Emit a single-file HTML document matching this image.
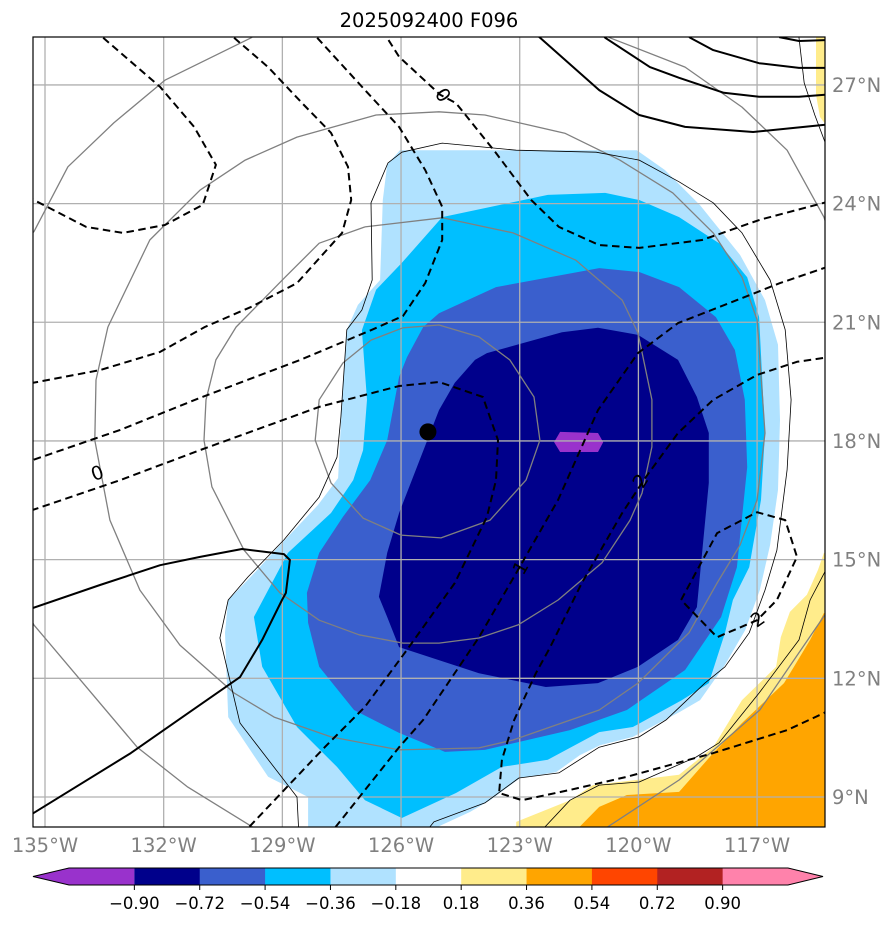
<!DOCTYPE html>
<html><head><meta charset="utf-8"><style>
body{margin:0;background:#fff;font-family:"Liberation Sans","DejaVu Sans",sans-serif}
svg text{font-family:"DejaVu Sans","Liberation Sans",sans-serif}
</style></head><body>
<svg id="chart" width="894" height="924" viewBox="0 0 894 924" xmlns="http://www.w3.org/2000/svg">
<defs><clipPath id="plotclip"><rect x="33" y="37" width="792" height="790"/></clipPath></defs>
<rect x="0" y="0" width="894" height="924" fill="#fff"/>
<text x="429" y="27" text-anchor="middle" font-size="19.5" fill="#000">2025092400 F096</text>
<g id="plot" clip-path="url(#plotclip)"></g>
<rect x="33" y="37" width="792" height="790" fill="none" stroke="#000" stroke-width="1.2"/>
<g id="axes"></g>
<g id="cbar"></g>
</svg>
<script>
// ---- axis data ----
const lonTicks = [-135, -132, -129, -126, -123, -120, -117];
const latTicks = [9, 12, 15, 18, 21, 24, 27];
const lonLabels = ["135°W","132°W","129°W","126°W","123°W","120°W","117°W"];
const latLabels = ["9°N","12°N","15°N","18°N","21°N","24°N","27°N"];
// ---- colorbar data ----
const levels = [-0.90,-0.72,-0.54,-0.36,-0.18,0.18,0.36,0.54,0.72,0.90];
const levelLabels = ["\u22120.90","\u22120.72","\u22120.54","\u22120.36","\u22120.18","0.18","0.36","0.54","0.72","0.90"];
const cbarColors = ["#9932cc","#00008b","#3a5fcd","#00bfff","#b0e2ff","#ffffff","#ffec8b","#ffa500","#ff4500","#b22222","#ff82ab"];
// ---- filled contours [lon,lat] ----
const fillLight = [[-126.35,24.98],[-126.03,25.35],[-120.04,25.35],[-119.33,24.85],[-118.44,23.96],[-117.43,22.70],[-116.80,21.56],[-116.47,20.43],[-116.42,18.53],[-116.47,16.76],[-116.67,15.37],[-116.93,14.23],[-117.30,13.22],[-117.81,12.34],[-118.44,11.45],[-118.95,11.15],[-120.14,10.52],[-120.97,10.31],[-121.48,10.06],[-122.08,9.63],[-122.99,9.48],[-123.75,8.92],[-124.26,8.62],[-125.02,8.27],[-125.3,8.0],[-128.35,8.0],[-128.35,9.0],[-129.36,9.51],[-130.37,11.02],[-130.45,13.15],[-130.37,13.98],[-129.82,14.54],[-129.06,15.37],[-128.10,16.38],[-127.59,17.06],[-127.49,19.04],[-127.37,20.81],[-127.09,21.44],[-126.53,22.07],[-126.46,24.09]];
const fillCyan = [[-125.98,22.50],[-124.96,23.66],[-122.29,24.22],[-120.84,24.27],[-119.98,24.09],[-118.97,23.66],[-117.96,23.00],[-117.25,22.14],[-116.95,21.13],[-116.80,18.20],[-116.90,16.51],[-117.20,14.81],[-117.61,13.98],[-117.81,13.15],[-118.22,11.88],[-118.90,11.45],[-120.14,10.77],[-120.99,10.64],[-122.29,9.94],[-123.45,9.76],[-124.61,9.10],[-125.98,8.47],[-126.91,8.92],[-127.62,9.76],[-128.63,10.77],[-129.51,12.29],[-129.72,13.55],[-128.86,15.17],[-127.77,16.18],[-127.21,17.01],[-126.96,17.77],[-126.86,19.04],[-126.99,20.80],[-126.63,21.82]];
const fillRoyal = [[-125.04,21.23],[-123.60,21.89],[-120.99,22.37],[-119.98,22.27],[-118.97,21.89],[-118.04,21.13],[-117.56,20.30],[-117.31,19.04],[-117.25,17.34],[-117.51,14.81],[-117.91,13.55],[-118.82,12.21],[-120.29,11.20],[-121.73,10.69],[-123.88,10.19],[-124.89,10.14],[-126.05,10.62],[-127.19,11.20],[-128.07,12.29],[-128.35,13.40],[-128.38,14.16],[-128.07,15.17],[-127.47,16.08],[-126.78,17.01],[-126.35,18.02],[-126.05,19.62],[-125.85,20.12],[-125.44,20.88]];
const fillNavy = [[-124.13,20.05],[-123.83,20.22],[-121.93,20.75],[-121.02,20.86],[-120.01,20.68],[-119.00,20.05],[-118.52,19.11],[-118.22,18.20],[-118.22,16.94],[-118.52,13.80],[-119.00,12.97],[-120.01,12.29],[-121.02,11.88],[-122.34,11.78],[-124.03,12.13],[-126.05,12.79],[-126.35,13.55],[-126.56,14.06],[-126.35,15.17],[-126.05,16.18],[-125.04,18.78],[-124.64,19.47]];
const fillPurple = [[-122.13,17.97],[-121.98,18.23],[-121.02,18.20],[-120.89,17.97],[-121.02,17.72],[-121.98,17.72]];
const fillYellow = [[-115.31,15.17],[-115.46,14.74],[-115.74,14.11],[-116.17,13.68],[-116.40,13.04],[-116.52,12.29],[-117.38,11.45],[-118.11,10.26],[-118.97,9.56],[-121.15,9.30],[-121.73,8.92],[-123.09,8.37],[-123.09,8.0],[-115.0,8.0],[-115.0,15.17]];
const fillYellowTop = [[-115.51,28.3],[-115.0,28.3],[-115.0,25.99],[-115.26,25.99],[-115.41,26.19],[-115.51,26.75]];
const fillOrange = [[-115.31,13.65],[-115.66,12.97],[-116.04,12.34],[-116.32,11.88],[-117.38,10.87],[-118.11,10.11],[-118.97,9.13],[-120.29,9.05],[-120.99,8.75],[-121.73,8.0],[-115.0,8.0],[-115.0,13.65]];
// ---- thin black contour ----
const thinMain = [[-128.58,8.0],[-128.63,9.0],[-130.07,10.87],[-130.58,13.02],[-130.37,13.98],[-129.87,14.56],[-128.96,15.50],[-128.07,16.58],[-127.62,17.59],[-127.52,18.61],[-127.37,20.81],[-126.99,21.31],[-126.73,22.07],[-126.76,24.02],[-126.33,25.03],[-125.98,25.30],[-124.96,25.53],[-123.09,25.35],[-121.07,25.30],[-119.98,25.10],[-118.97,24.55],[-118.11,24.02],[-117.38,23.26],[-116.67,22.07],[-116.29,20.81],[-116.14,19.04],[-116.24,17.27],[-116.50,15.24],[-116.80,14.23],[-117.20,13.15],[-117.81,12.29],[-118.32,11.88],[-119.30,10.95],[-119.98,10.52],[-120.99,10.26],[-122.01,9.61],[-123.02,9.48],[-123.88,8.85],[-125.17,8.37],[-125.47,8.0]];
const thinSE = [[-115.0,15.2],[-115.26,14.74],[-115.66,13.98],[-115.94,12.97],[-116.95,11.63],[-117.96,10.37],[-118.54,10.01],[-119.98,9.38],[-120.99,9.30],[-121.73,8.92],[-122.59,8.0]];
const thinNE = [[-115.94,28.3],[-115.94,28.19],[-115.81,27.05],[-115.54,26.24],[-115.0,24.8]];
// ---- gray contours ----
const gray1 = [[-125.95,20.86],[-125.04,20.93],[-124.03,20.63],[-123.25,20.05],[-122.64,19.11],[-122.49,18.02],[-122.84,17.01],[-123.75,16.00],[-124.99,15.55],[-126.00,15.62],[-126.96,16.05],[-127.77,16.94],[-128.17,18.02],[-128.07,19.04],[-127.47,19.97],[-126.76,20.55],[-125.95,20.86]];
const gray2 = [[-126.91,23.41],[-124.96,23.64],[-123.17,23.26],[-121.58,22.57],[-120.41,21.56],[-120.01,20.73],[-119.66,19.04],[-119.66,17.85],[-119.91,16.68],[-120.21,16.00],[-120.92,14.92],[-122.03,13.98],[-123.04,13.35],[-124.03,13.02],[-125.04,12.89],[-125.95,12.89],[-127.06,13.10],[-128.07,13.47],[-129.06,14.16],[-129.97,15.24],[-130.78,16.84],[-130.98,18.02],[-130.93,19.04],[-130.68,20.05],[-130.17,20.88],[-128.93,22.14],[-128.07,23.00],[-126.91,23.41]];
const gray3 = [[-133.41,20.88],[-132.35,23.08],[-131.08,24.34],[-129.94,25.10],[-128.63,25.68],[-126.63,26.24],[-125.04,26.32],[-123.88,26.24],[-121.86,25.78],[-120.47,25.10],[-119.13,24.27],[-118.11,23.26],[-117.38,22.14],[-117.00,21.06],[-116.80,18.20],[-117.00,16.51],[-117.43,15.37],[-118.01,14.41],[-118.72,13.15],[-120.01,11.88],[-120.99,11.20],[-123.17,10.44],[-124.03,10.24],[-126.05,10.19],[-127.77,10.52],[-129.21,11.02],[-130.22,11.63],[-131.59,12.84],[-132.60,14.23],[-133.36,16.00],[-133.74,18.02],[-133.71,19.54],[-133.41,20.88]];
const gray4a = [[-135.63,22.95],[-135.28,23.29],[-134.42,24.93],[-133.26,26.04],[-131.97,27.12],[-129.79,28.19],[-129.5,28.4]];
const gray4b = [[-121.0,28.4],[-120.72,28.19],[-118.82,27.45],[-117.38,26.44],[-116.24,25.35],[-115.31,23.66],[-115.03,22.83]];
const gray4c = [[-135.63,13.98],[-135.28,13.35],[-132.67,10.26],[-131.39,9.25],[-129.36,8.0]];
const gray4d = [[-115.03,13.98],[-115.38,13.47],[-116.93,11.20],[-118.97,9.43],[-121.15,8.0]];
// ---- dashed contours ----
const dash1 = [[-133.53,28.19],[-132.09,26.95],[-131.23,25.94],[-130.68,24.98],[-131.01,23.97],[-131.97,23.46],[-133.03,23.26],[-133.96,23.41],[-135.28,24.09],[-135.63,24.29]];
const dash2 = [[-130.22,28.19],[-129.36,27.45],[-128.50,26.54],[-127.77,25.79],[-127.34,24.93],[-127.26,24.09],[-127.49,23.26],[-128.63,21.99],[-129.79,21.39],[-130.96,20.88],[-132.09,20.25],[-133.61,19.79],[-135.30,19.47],[-135.63,19.42]];
const dash3 = [[-128.12,28.19],[-126.91,26.87],[-126.05,25.94],[-125.39,24.85],[-124.96,23.92],[-124.96,23.08],[-125.39,21.99],[-125.95,21.16],[-126.76,20.80],[-128.55,20.05],[-131.08,19.09],[-133.10,18.28],[-135.30,17.52],[-135.63,17.39]];
const dash4 = [[-135.63,16.13],[-135.30,16.26],[-133.10,17.01],[-131.08,17.77],[-128.07,18.86],[-126.05,19.39],[-125.04,19.49],[-123.93,19.11],[-123.55,18.02],[-123.60,17.01],[-123.83,16.08],[-124.64,14.41],[-125.85,12.72],[-126.91,11.28],[-127.92,10.27],[-130.07,8.0]];
const dash5 = [[-127.85,8.0],[-126.05,10.26],[-125.44,10.95],[-124.03,13.04],[-122.94,14.92],[-122.03,16.51],[-121.02,18.78],[-120.01,20.22],[-119.00,20.98],[-117.51,21.56],[-116.42,21.99],[-115.31,22.37],[-115.03,22.47]];
const dash6 = [[-115.03,20.12],[-115.31,20.10],[-115.99,20.00],[-117.00,19.67],[-118.11,19.04],[-119.00,18.20],[-119.81,17.09],[-120.41,16.18],[-121.43,14.41],[-122.23,12.79],[-122.59,12.13],[-123.14,10.95],[-123.45,9.94],[-123.52,9.10],[-122.94,8.92],[-121.73,9.18],[-120.29,9.51],[-118.11,10.11],[-116.24,10.69],[-115.31,11.12],[-115.03,11.33]];
const dash7 = [[-126.48,28.39],[-126.05,27.71],[-125.01,26.75],[-124.61,26.54],[-123.60,25.28],[-122.71,24.09],[-122.01,23.41],[-120.99,22.95],[-119.98,22.88],[-118.39,23.08],[-116.93,23.59],[-115.31,24.02],[-115.03,24.12]];
const dash8 = [[-118.92,13.98],[-118.01,15.67],[-117.00,16.20],[-116.29,16.00],[-115.99,15.07],[-116.50,13.98],[-117.00,13.47],[-118.01,13.04],[-118.92,13.98]];
// ---- solid black contours ----
const solid1 = [[-135.63,13.68],[-135.30,13.78],[-133.61,14.36],[-132.09,14.86],[-131.08,15.07],[-130.02,15.27],[-128.96,15.14],[-128.81,14.99],[-128.91,14.16],[-129.01,13.98],[-129.51,12.97],[-130.07,12.03],[-131.38,11.12],[-132.83,10.11],[-135.28,8.60],[-135.63,8.37]];
const solid2 = [[-122.71,28.39],[-120.99,26.87],[-119.98,26.24],[-118.82,25.94],[-117.10,25.81],[-115.31,25.99],[-115.03,26.06]];
const solid3 = [[-121.0,28.4],[-120.84,28.19],[-119.71,27.45],[-118.97,27.18],[-117.84,26.80],[-116.95,26.70],[-115.94,26.70],[-115.03,26.77]];
const solid4 = [[-118.9,28.4],[-118.69,28.19],[-118.11,27.88],[-116.95,27.55],[-115.94,27.43],[-115.03,27.43]];
const solid5 = [[-116.44,28.21],[-115.94,28.11],[-115.03,28.14]];
// ---- storm center ----
const centerLon = [-125.32];
const centerLat = [18.23];
// ---- contour labels ----
const labelText = ["0","0","1","2","2"];
const labelLon = [-124.93,-133.68,-122.99,-119.96,-116.99];
const labelLat = [26.75,17.2,14.8,17.0,13.5];
const labelRot = [55,-20,-60,-58,-35];

const NS = "http://www.w3.org/2000/svg";
function X(lon){ return 45 + (lon + 135) * 39.56; }
function Y(lat){ return 797 - (lat - 9) * 39.56; }
function pts(arr){ return arr.map(p => X(p[0]).toFixed(1) + "," + Y(p[1]).toFixed(1)).join(" "); }
function mk(tag, attrs, parent){ const e = document.createElementNS(NS, tag); for (const k in attrs) e.setAttribute(k, attrs[k]); parent.appendChild(e); return e; }
const plot = document.getElementById("plot");
const axes = document.getElementById("axes");
const cbar = document.getElementById("cbar");

function fill(arr, color, name){
  const e = mk("polygon", {points: pts(arr), fill: color, stroke: "none"}, plot);
  
  
}
fill(fillLight, "#b0e2ff", "fill-minus-0-18");
fill(fillCyan, "#00bfff", "fill-minus-0-36");
fill(fillRoyal, "#3a5fcd", "fill-minus-0-54");
fill(fillNavy, "#00008b", "fill-minus-0-72");
fill(fillPurple, "#9932cc", "fill-minus-0-90");
fill(fillYellow, "#ffec8b", "fill-plus-0-18");
fill(fillYellowTop, "#ffec8b", "fill-plus-0-18-north");
fill(fillOrange, "#ffa500", "fill-plus-0-36");

// gridlines
lonTicks.forEach((lon) => {
  const g = mk("line", {x1: X(lon), x2: X(lon), y1: 37, y2: 827, stroke: "#b0b0b0", "stroke-width": 1.3}, plot);
  
  
});
latTicks.forEach((lat) => {
  const g = mk("line", {x1: 33, x2: 825, y1: Y(lat), y2: Y(lat), stroke: "#b0b0b0", "stroke-width": 1.3}, plot);
  
  
});

function line(arr, stroke, w, dash, name){
  const a = {points: pts(arr), fill: "none", stroke: stroke, "stroke-width": w, "stroke-linejoin": "round"};
  if (dash) a["stroke-dasharray"] = dash;
  const e = mk("polyline", a, plot);
  
  
}
[gray1, gray2, gray3, gray4a, gray4b, gray4c, gray4d].forEach(g => line(g, "#808080", 1.3, null, "gray-contour"));
line(thinMain, "#000", 0.8, null, "thin-contour");
line(thinSE, "#000", 0.8, null, "thin-contour");
line(thinNE, "#000", 0.8, null, "thin-contour");
[dash1, dash2, dash3, dash4, dash5, dash6, dash7, dash8].forEach(d => line(d, "#000", 2, "7.5,4.5", "dashed-contour"));
[solid1, solid2, solid3, solid4, solid5].forEach(s => line(s, "#000", 2, null, "solid-contour"));

centerLon.forEach((lon, i) => {
  const c = mk("circle", {cx: X(lon), cy: Y(centerLat[i]), r: 8.5, fill: "#000"}, plot);
  
  
});
labelText.forEach((t, i) => {
  const x = X(labelLon[i]), y = Y(labelLat[i]);
  const e = mk("text", {x: x, y: y + 7, "text-anchor": "middle", "font-size": 19, fill: "#000", transform: "rotate(" + labelRot[i] + " " + x + " " + y + ")"}, plot);
  e.textContent = t;
  
  
});

// axis tick labels
lonTicks.forEach((lon, i) => {
  const t = mk("text", {x: X(lon), y: 852, "text-anchor": "middle", "font-size": 19.5, fill: "#808080"}, axes);
  t.textContent = lonLabels[i];
  
  
});
latTicks.forEach((lat, i) => {
  const t = mk("text", {x: 832, y: Y(lat) + 7, "text-anchor": "start", "font-size": 19.5, fill: "#808080"}, axes);
  t.textContent = latLabels[i];
  
  
});

// colorbar
const cbTop = 868, cbBot = 885, cbX0 = 69, cbX1 = 788, segW = (cbX1 - cbX0) / 11;
cbarColors.forEach((c, i) => {
  const x0 = cbX0 + i * segW;
  let e;
  if (i === 0) e = mk("polygon", {points: `33,${(cbTop+cbBot)/2} ${cbX0},${cbTop} ${x0+segW},${cbTop} ${x0+segW},${cbBot} ${cbX0},${cbBot}`, fill: c}, cbar);
  else if (i === cbarColors.length - 1) e = mk("polygon", {points: `${x0},${cbTop} ${cbX1},${cbTop} 823,${(cbTop+cbBot)/2} ${cbX1},${cbBot} ${x0},${cbBot}`, fill: c}, cbar);
  else e = mk("rect", {x: x0, y: cbTop, width: segW + 0.4, height: cbBot - cbTop, fill: c}, cbar);
  
  
});
const outline = mk("polygon", {points: `33,${(cbTop+cbBot)/2} ${cbX0},${cbTop} ${cbX1},${cbTop} 823,${(cbTop+cbBot)/2} ${cbX1},${cbBot} ${cbX0},${cbBot}`, fill: "none", stroke: "#000", "stroke-width": 1}, cbar);


levels.forEach((v, i) => {
  const x = cbX0 + (i + 1) * segW;
  const tk = mk("line", {x1: x, x2: x, y1: cbBot, y2: cbBot + 5, stroke: "#000", "stroke-width": 1}, cbar);
  
  
  const t = mk("text", {x: x, y: 909, "text-anchor": "middle", "font-size": 16.5, fill: "#000"}, cbar);
  t.textContent = levelLabels[i];
  
  
});
</script>
</body></html>
